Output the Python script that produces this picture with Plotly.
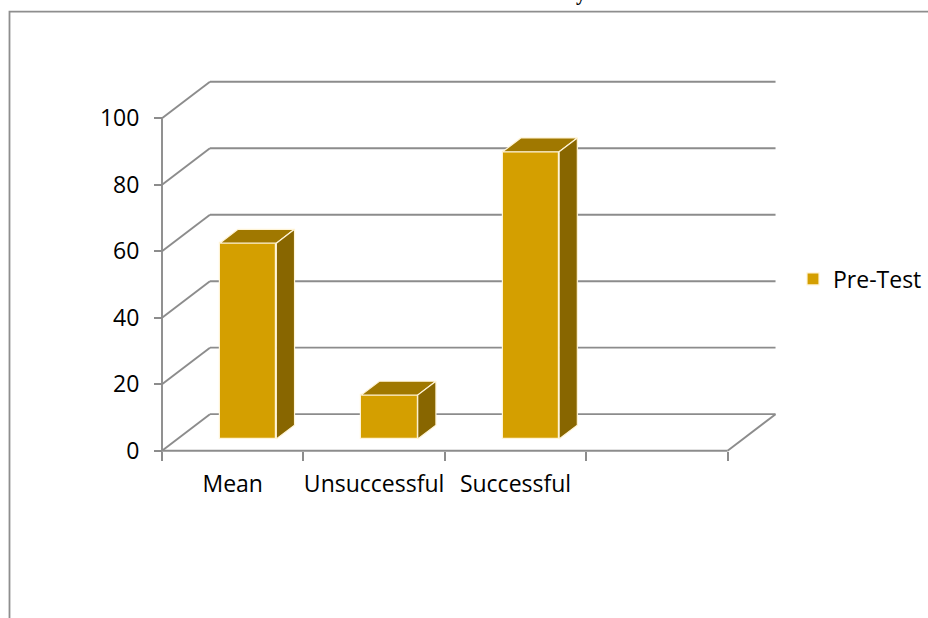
import plotly.graph_objects as go

# ---------------- data ----------------
categories = ["Mean", "Unsuccessful", "Successful", ""]
pre_test = [58.9, 13.2, 86.4, None]
y_ticks = [0, 20, 40, 60, 80, 100]
series_name = "Pre-Test"

# ---------------- style / geometry ----------------
FONT = "Open Sans, Calibri, Carlito, sans-serif"
FRONT = "#D49F00"
TOP = "#A07800"
SIDE = "#886600"
EDGE = "#FFF4D6"
GRID = "#8C8C8C"
GW = 1.9

DX = 0.339      # oblique depth offset in category units
DY = 11.0       # oblique depth offset in value units
F0, F1 = 0.32, 0.70   # bar depth slice (fraction of floor depth)
BW = 0.40       # bar width in category units

# pixel layout of plot area
W, H = 928, 618
L_PX, R_PX, T_PX, B_PX = 150, 790, 70, 460
X0_PX, XU = 162.0, 141.4          # pixel of category 0, px per category
Y0_PX, YU = 450.7, 3.324          # pixel of value 0, px per value unit

x_range = [(L_PX - X0_PX) / XU, (R_PX - X0_PX) / XU]
y_range = [(Y0_PX - B_PX) / YU, (Y0_PX - T_PX) / YU]
pw, ph = R_PX - L_PX, B_PX - T_PX


def px_to_paper_x(px):
    return (px - L_PX) / pw


def px_to_paper_y(py):
    return (B_PX - py) / ph


n = len(categories)
fig = go.Figure()

# front faces as real bars
bx, by = [], []
for i, v in enumerate(pre_test):
    if v is None:
        continue
    bx.append(i + 0.5 + F0 * DX)
    by.append(v)
fig.add_trace(go.Bar(
    x=bx, y=by, base=F0 * DY, width=BW, name=series_name,
    marker=dict(color=FRONT, line=dict(color=EDGE, width=1.2)),
    showlegend=True, hoverinfo="skip",
))

# top and side faces
d = F1 - F0
tx, ty, sx, sy = [], [], [], []
for i, v in enumerate(pre_test):
    if v is None:
        continue
    xl = i + 0.5 - BW / 2 + F0 * DX
    xr = xl + BW
    yb = F0 * DY
    yt = v + F0 * DY
    tx += [xl, xr, xr + d * DX, xl + d * DX, xl, None]
    ty += [yt, yt, yt + d * DY, yt + d * DY, yt, None]
    sx += [xr, xr + d * DX, xr + d * DX, xr, xr, None]
    sy += [yb, yb + d * DY, yt + d * DY, yt, yb, None]
fig.add_trace(go.Scatter(x=tx, y=ty, mode="lines", fill="toself", fillcolor=TOP,
                         line=dict(color=EDGE, width=1.2), showlegend=False, hoverinfo="skip"))
fig.add_trace(go.Scatter(x=sx, y=sy, mode="lines", fill="toself", fillcolor=SIDE,
                         line=dict(color=EDGE, width=1.2), showlegend=False, hoverinfo="skip"))

# walls / grid
shapes = []
for t in y_ticks:
    shapes.append(dict(type="line", xref="x", yref="y", x0=0, y0=t, x1=DX, y1=t + DY,
                       line=dict(color=GRID, width=GW), layer="below"))
    shapes.append(dict(type="line", xref="x", yref="y", x0=DX, y0=t + DY, x1=n + DX, y1=t + DY,
                       line=dict(color=GRID, width=GW), layer="below"))
# left axis line and floor front / right edge
shapes.append(dict(type="line", xref="x", yref="y", x0=0, y0=0, x1=0, y1=y_ticks[-1],
                   line=dict(color=GRID, width=GW), layer="below"))
shapes.append(dict(type="line", xref="x", yref="y", x0=0, y0=0, x1=n, y1=0,
                   line=dict(color=GRID, width=GW), layer="below"))
shapes.append(dict(type="line", xref="x", yref="y", x0=n, y0=0, x1=n + DX, y1=DY,
                   line=dict(color=GRID, width=GW), layer="below"))
# outer chart border (continues beyond the picture)
shapes.append(dict(type="rect", xref="paper", yref="paper",
                   x0=px_to_paper_x(9.5), y0=px_to_paper_y(640),
                   x1=px_to_paper_x(960), y1=px_to_paper_y(11.7),
                   line=dict(color="#8E8E8E", width=1.8), fillcolor="rgba(0,0,0,0)", layer="below"))

fig.update_layout(
    width=W, height=H,
    margin=dict(l=L_PX, r=W - R_PX, t=T_PX, b=H - B_PX, autoexpand=False),
    paper_bgcolor="white", plot_bgcolor="rgba(0,0,0,0)",
    font=dict(family=FONT, size=23, color="black"),
    shapes=shapes,
    showlegend=True,
    legend=dict(x=px_to_paper_x(793), y=px_to_paper_y(279), xanchor="left", yanchor="middle",
                font=dict(family=FONT, size=23, color="black"), bgcolor="rgba(0,0,0,0)"),
    xaxis=dict(range=x_range, showgrid=False, zeroline=False, showline=False,
               anchor="free", position=px_to_paper_y(Y0_PX),
               tickmode="array", tickvals=[i + 0.5 for i in range(n)], ticktext=categories,
               ticks="", ticklabelstandoff=17,
               minor=dict(tickmode="array", tickvals=list(range(n + 1)), ticks="outside",
                          ticklen=9, tickcolor=GRID, tickwidth=GW, showgrid=False),
               fixedrange=True),
    yaxis=dict(range=y_range, showgrid=False, zeroline=False, showline=False,
               anchor="free", position=px_to_paper_x(X0_PX),
               tickmode="array", tickvals=y_ticks, ticks="outside", ticklen=8,
               tickcolor=GRID, tickwidth=GW, ticklabelstandoff=10, fixedrange=True),
    bargap=0,
    annotations=[dict(text="<b>y</b>", xref="paper", yref="paper",
                      x=px_to_paper_x(581), y=px_to_paper_y(7), xanchor="center", yanchor="bottom",
                      showarrow=False, font=dict(family="Liberation Serif", size=20, color="black"))],
)

fig.write_html("out.html")
